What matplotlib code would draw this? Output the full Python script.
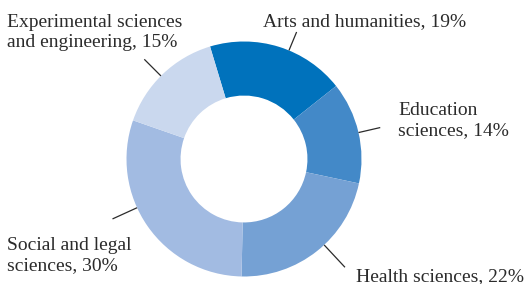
import numpy as np
import matplotlib.pyplot as plt

# 数据
categories = ['Arts and humanities', 'Education sciences', 'Health sciences',
              'Social and legal sciences', 'Experimental sciences and engineering']
shares = [19, 14, 22, 30, 15]
label_texts = ['Arts and humanities, 19%', 'Education\nsciences, 14%',
               'Health sciences, 22%', 'Social and legal\nsciences, 30%',
               'Experimental sciences\nand engineering, 15%']
colors = ['#0072bc', '#4389c8', '#75a1d4', '#a2bbe2', '#cad8ee']

# 布局 (像素)，多行标签按最后一行基线定位
W, H = 526, 284
CX, CY, R = 244, 159, 117.5
label_pos = [(263, 26), (398, 135), (356, 281), (7, 270), (7, 47)]
leader_ang = [67.5, 13, -47, 204.5, 135]
leader_r = [(1.0, 1.17), (1.0, 1.19), (1.0, 1.26), (1.0, 1.23), (1.0, 1.2)]
TEXT_COLOR = '#2b2b2b'

plt.rcParams['font.family'] = ['Liberation Serif', 'DejaVu Serif']

fig = plt.figure(figsize=(W / 100, H / 100), dpi=100)
ax = fig.add_axes([0, 0, 1, 1])

ax.pie(shares, colors=colors, startangle=106.8, counterclock=False,
       radius=1.0, wedgeprops=dict(width=0.46, edgecolor='none'))

ax.set_xlim(-CX / R, (W - CX) / R)
ax.set_ylim(-(H - CY) / R, CY / R)
ax.set_aspect('auto')
ax.axis('off')

# 引线
for ang, (r0, r1) in zip(leader_ang, leader_r):
    a = np.deg2rad(ang)
    ax.plot([r0 * np.cos(a), r1 * np.cos(a)], [r0 * np.sin(a), r1 * np.sin(a)],
            color=TEXT_COLOR, lw=0.9, solid_capstyle='butt')

# 标签
for txt, (px, py) in zip(label_texts, label_pos):
    fig.text(px / W, 1 - py / H, txt, ha='left', va='baseline',
             fontsize=14, color=TEXT_COLOR, linespacing=1.2)

fig.savefig('out.png', dpi=100)
